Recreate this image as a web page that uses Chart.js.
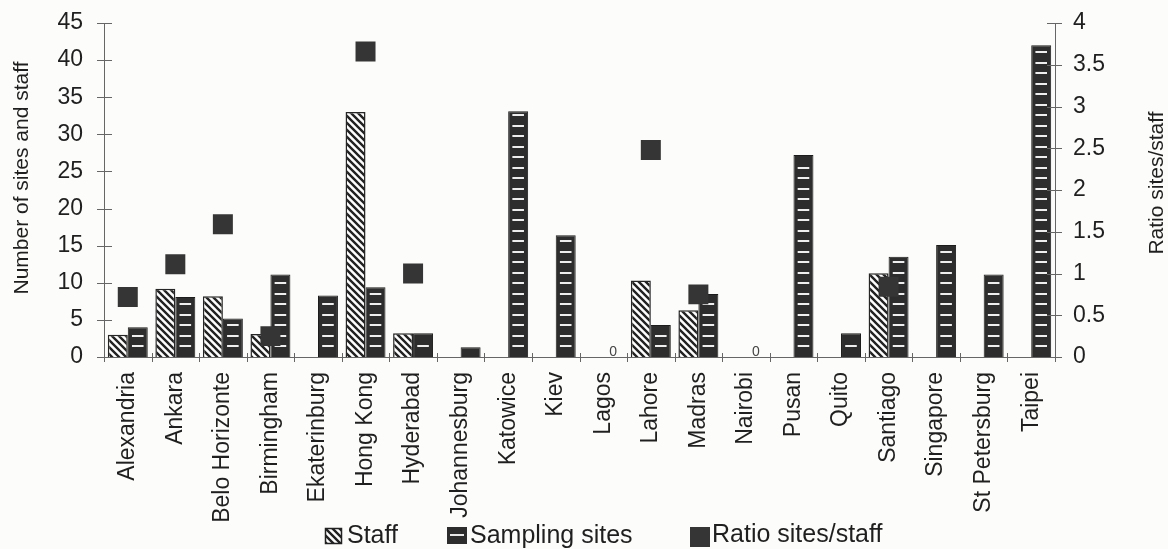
<!DOCTYPE html>
<html>
<head>
<meta charset="utf-8">
<script src="https://cdn.jsdelivr.net/npm/chart.js@4.4.1/dist/chart.umd.min.js"></script>
<style>
  html, body { margin: 0; padding: 0; background: #fcfcfa; }
  #wrap { width: 1168px; height: 549px; }
</style>
</head>
<body>
<div id="wrap"><canvas id="c" width="1168" height="549"></canvas></div>
<script>
// Cities in the monitoring network
const cities = ['Alexandria', 'Ankara', 'Belo Horizonte', 'Birmingham', 'Ekaterinburg',
  'Hong Kong', 'Hyderabad', 'Johannesburg', 'Katowice', 'Kiev', 'Lagos', 'Lahore',
  'Madras', 'Nairobi', 'Pusan', 'Quito', 'Santiago', 'Singapore', 'St Petersburg', 'Taipei'];

// Staff per city (null = not reported)
const staff = [3, 9.2, 8.2, 3.1, null, 33, 3.2, null, null, null,
  null, 10.3, 6.3, null, null, null, 11.3, null, null, null];

// Number of sampling sites per city
const sites = [4, 8.1, 5.2, 11.1, 8.3, 9.4, 3.2, 1.3, 33.1, 16.4,
  0, 4.3, 8.5, 0, 27.2, 3.2, 13.5, 15.1, 11.1, 42];

// Ratio marker values (right axis)
const ratio = [0.72, 1.11, 1.59, 0.25, null, 3.66, 1.0, null, null, null,
  null, 2.48, 0.75, null, null, null, 0.84, null, null, null];

const seriesNames = ['Staff', 'Sampling sites', 'Ratio sites/staff'];
const axisTitles = ['Number of sites and staff', 'Ratio sites/staff'];

const FONT = '"Liberation Sans", Arial, Helvetica, sans-serif';
const INK = '#1f1f1f';
const DARK = '#2d2d2d';
const AXIS = '#666';

Chart.defaults.font.family = FONT;
Chart.defaults.color = INK;

// Diagonal "\" hatching used for the staff bars
function makeHatch() {
  const p = 7;
  const c = document.createElement('canvas');
  c.width = p; c.height = p;
  const g = c.getContext('2d');
  g.fillStyle = '#fdfdfd';
  g.fillRect(0, 0, p, p);
  g.strokeStyle = '#222';
  g.lineWidth = 2.4;
  g.beginPath();
  for (let k = -1; k <= 1; k++) {
    g.moveTo(-1, k * p - 1);
    g.lineTo(p + 1, p + k * p + 1);
  }
  g.stroke();
  return g.createPattern(c, 'repeat');
}
const hatch = makeHatch();

// White horizontal dashes painted over the sampling-site bars
const sitesDashes = {
  id: 'sitesDashes',
  afterDatasetDraw(chart, args) {
    if (args.index !== 1) return;
    const ctx = chart.ctx;
    ctx.save();
    ctx.fillStyle = '#eeeeee';
    args.meta.data.forEach(bar => {
      const { x, y, base, width } = bar.getProps(['x', 'y', 'base', 'width'], true);
      const w = width * 0.58;
      for (let yy = base - 11; yy > y + 3; yy -= 10.5) {
        ctx.fillRect(x - w / 2, Math.round(yy) - 1, w, 2);
      }
    });
    ctx.restore();
  }
};

// "0" labels for cities with no sampling sites
const zeroLabels = {
  id: 'zeroLabels',
  afterDatasetsDraw(chart) {
    const meta = chart.getDatasetMeta(1);
    const ctx = chart.ctx;
    ctx.save();
    ctx.font = '14px ' + FONT;
    ctx.fillStyle = '#444';
    ctx.textAlign = 'center';
    ctx.textBaseline = 'middle';
    meta.data.forEach((bar, i) => {
      if (chart.data.datasets[1].data[i] === 0) {
        const { x, base } = bar.getProps(['x', 'base'], true);
        ctx.fillText('0', x, base - 5);
      }
    });
    ctx.restore();
  }
};

// Short tick marks that cross the axis lines
const crossTicks = {
  id: 'crossTicks',
  afterDraw(chart) {
    const { ctx, chartArea: a, scales } = chart;
    ctx.save();
    ctx.strokeStyle = AXIS;
    ctx.lineWidth = 1;
    ctx.beginPath();
    scales.y.ticks.forEach(t => {
      const py = Math.round(scales.y.getPixelForValue(t.value)) + 0.5;
      ctx.moveTo(a.left - 7, py); ctx.lineTo(a.left + 8, py);
    });
    scales.y1.ticks.forEach(t => {
      const py = Math.round(scales.y1.getPixelForValue(t.value)) + 0.5;
      ctx.moveTo(a.right - 8, py); ctx.lineTo(a.right + 7, py);
    });
    for (let i = 0; i <= cities.length; i++) {
      const px = Math.round(scales.x.getPixelForValue(i - 0.5)) + 0.5;
      ctx.moveTo(px, a.bottom - 4); ctx.lineTo(px, a.bottom + 5);
    }
    ctx.stroke();
    ctx.restore();
  }
};

// Axis titles (both read bottom-to-top) and the legend row
const titlesAndLegend = {
  id: 'titlesAndLegend',
  afterDraw(chart) {
    const { ctx, chartArea: a } = chart;
    const midY = (a.top + a.bottom) / 2;
    ctx.save();
    ctx.fillStyle = INK;
    ctx.font = '21px ' + FONT;
    ctx.textAlign = 'center';
    ctx.textBaseline = 'middle';
    ctx.save();
    ctx.translate(22, midY - 12);
    ctx.rotate(-Math.PI / 2);
    ctx.fillText(axisTitles[0], 0, 0);
    ctx.restore();
    ctx.save();
    ctx.translate(1157, midY - 7);
    ctx.rotate(-Math.PI / 2);
    ctx.fillText(axisTitles[1], 0, 0);
    ctx.restore();

    // legend
    ctx.textAlign = 'left';
    ctx.textBaseline = 'alphabetic';
    ctx.font = '25px ' + FONT;
    ctx.lineWidth = 1.5;
    ctx.strokeStyle = '#222';
    // staff swatch
    ctx.fillStyle = hatch;
    ctx.fillRect(325, 528, 17, 16);
    ctx.strokeRect(325.5, 528.5, 16, 15);
    ctx.fillStyle = INK;
    ctx.fillText(chart.data.datasets[0].label, 347, 543);
    // sampling sites swatch
    ctx.fillStyle = DARK;
    ctx.fillRect(447, 527, 20, 17);
    ctx.fillStyle = '#e8e8e8';
    ctx.fillRect(450, 534, 14, 2);
    ctx.fillStyle = INK;
    ctx.fillText(chart.data.datasets[1].label, 470, 543);
    // ratio swatch
    ctx.fillStyle = '#353535';
    ctx.fillRect(690, 527, 20, 20);
    ctx.fillStyle = INK;
    ctx.fillText(chart.data.datasets[2].label, 712, 542);
    ctx.restore();
  }
};

// Fixed axis widths; drop the label overflow padding so the plot spans the full height
function fixWidth(w) {
  return s => { s.width = w; s.paddingTop = 0; s.paddingBottom = 0; };
}

new Chart(document.getElementById('c'), {
  data: {
    labels: cities,
    datasets: [
      {
        type: 'bar', label: seriesNames[0], data: staff, yAxisID: 'y', order: 1,
        backgroundColor: hatch, borderColor: '#262626', borderWidth: 1.5,
        categoryPercentage: 0.84, barPercentage: 1.0
      },
      {
        type: 'bar', label: seriesNames[1], data: sites, yAxisID: 'y', order: 1,
        backgroundColor: DARK, borderColor: '#1c1c1c', borderWidth: 1,
        categoryPercentage: 0.84, barPercentage: 1.0
      },
      {
        type: 'line', label: seriesNames[2], data: ratio, yAxisID: 'y1', order: 0,
        showLine: false, pointStyle: 'rect', pointRadius: 14.14, pointHoverRadius: 14.14,
        backgroundColor: '#353535', borderColor: '#353535', borderWidth: 0
      }
    ]
  },
  options: {
    responsive: false,
    animation: false,
    devicePixelRatio: 1,
    events: [],
    layout: { padding: { top: 23, left: 0, right: 0, bottom: 0 } },
    plugins: { legend: { display: false }, tooltip: { enabled: false } },
    scales: {
      x: {
        offset: true,
        grid: { display: false, drawTicks: false },
        border: { display: true, color: AXIS, width: 1 },
        ticks: {
          autoSkip: false, minRotation: 90, maxRotation: 90, padding: 15,
          font: { size: 23 }, color: INK
        },
        afterFit: s => { s.height = 192; s.paddingLeft = 0; s.paddingRight = 0; }
      },
      y: {
        position: 'left', min: 0, max: 45,
        grid: { display: false, drawTicks: false },
        border: { display: true, color: AXIS, width: 1 },
        ticks: { stepSize: 5, padding: 21, font: { size: 23 }, color: INK },
        afterFit: fixWidth(104)
      },
      y1: {
        position: 'right', min: 0, max: 4,
        grid: { display: false, drawTicks: false },
        border: { display: true, color: AXIS, width: 1 },
        ticks: { stepSize: 0.5, padding: 18, font: { size: 23 }, color: INK,
          callback: v => String(v) },
        afterFit: fixWidth(113)
      }
    }
  },
  plugins: [sitesDashes, zeroLabels, crossTicks, titlesAndLegend]
});
</script>
</body>
</html>
